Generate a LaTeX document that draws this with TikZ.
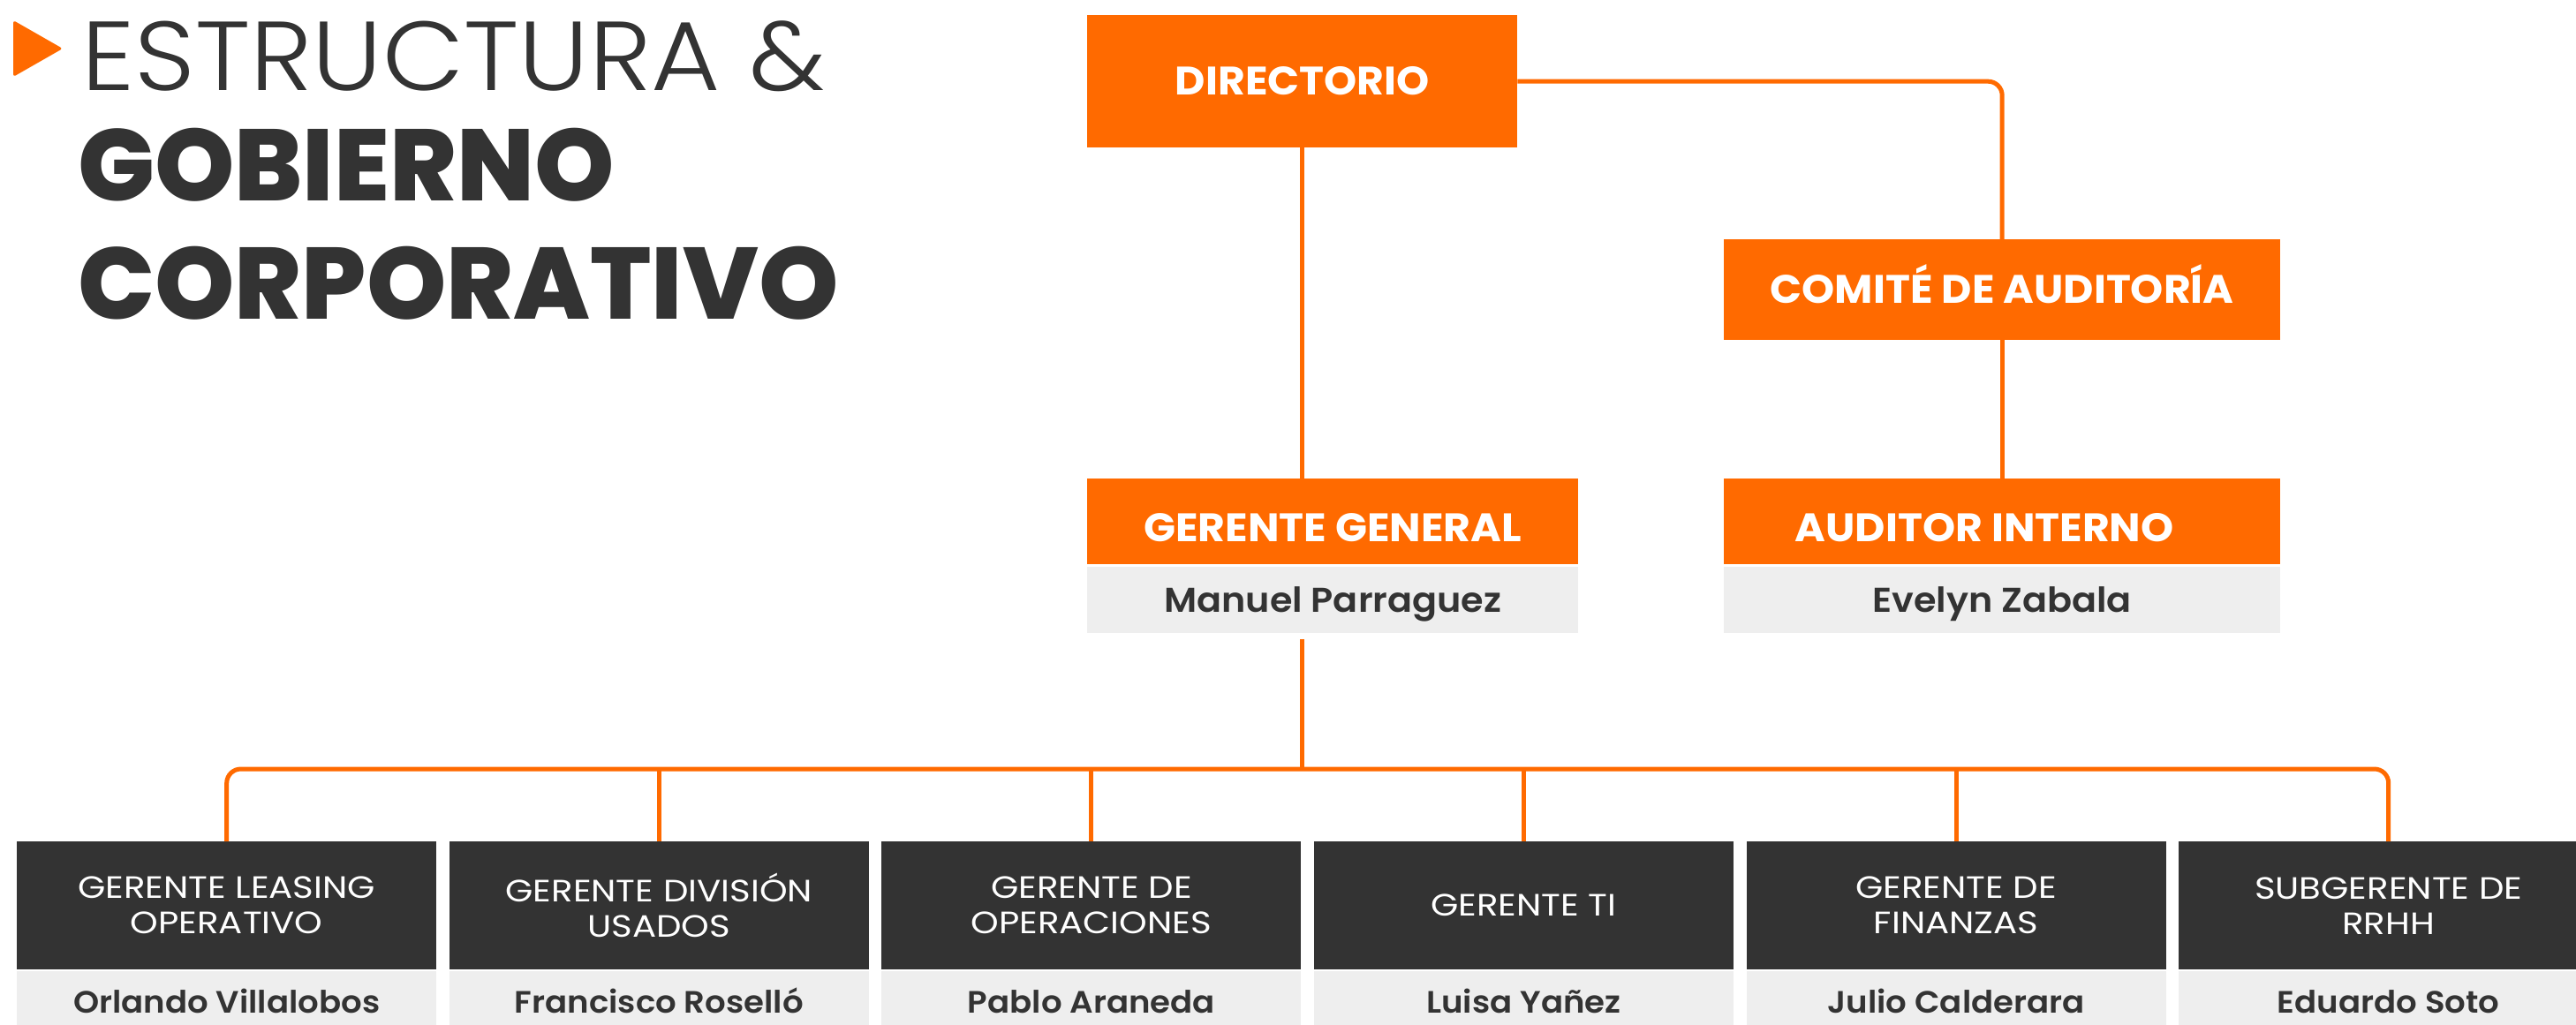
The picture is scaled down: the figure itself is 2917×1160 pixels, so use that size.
\documentclass[tikz,border=0pt]{standalone}
\usepackage{fontspec}
\setmainfont{Poppins}
\newfontfamily\lightface{Poppins Light}[FakeStretch=1.08]
\newfontfamily\blackface{Poppins ExtraBold}
\newfontfamily\headface{Poppins Bold}[FakeStretch=1.05]
\newfontfamily\semiface{Poppins SemiBold}[FakeStretch=1.06]
\newfontfamily\roleface{Poppins}[FakeStretch=1.15]
\usetikzlibrary{positioning}
\definecolor{brand}{HTML}{FF6A00}
\definecolor{ink}{HTML}{333333}
\definecolor{paper}{HTML}{EEEEEE}

\begin{document}
\begin{tikzpicture}[x=1pt, y=-1pt,
  head/.style={fill=brand, text=white, inner sep=0pt, anchor=north west, text height=31.5pt, text depth=0pt, font=\headface\fontsize{45}{50}\selectfont},
  namebox/.style={fill=paper, text=ink, inner sep=0pt},
  role/.style={fill=ink, text=white, inner sep=0pt, align=center, anchor=north west, minimum width=475pt, minimum height=145pt, font=\roleface\fontsize{35}{40}\selectfont},
  person/.style={namebox, minimum width=475pt, minimum height=80pt, text height=24.5pt, text depth=8.5pt, font=\semiface\fontsize{35}{40}\selectfont},
  title/.style={anchor=base west, inner sep=0pt, text=ink},
  link/.style={draw=brand, line width=5pt}]
\useasboundingbox (0,0) rectangle (2917,1160);

% title
\fill[brand, rounded corners=3pt] (15,23) -- (71,55) -- (15,87) -- cycle;
\node[title, font=\lightface\fontsize{111}{111}\selectfont] (title1) at (92,102) {ESTRUCTURA \&};
\node[title, font=\blackface\fontsize{115}{115}\selectfont] (title2) at (88,227) {GOBIERNO};
\node[title, font=\blackface\fontsize{115}{115}\selectfont] (title3) at (88,361) {CORPORATIVO};

% board and general management
\node[head, minimum width=487pt, minimum height=150pt] (dir) at (1231,17) {DIRECTORIO};
\node[head, minimum width=630pt, minimum height=114pt] (comite) at (1952,271) {COMITÉ DE AUDITORÍA};
\node[head, minimum width=556pt, minimum height=97pt, text height=45.5pt] (gg) at (1231,542) {GERENTE GENERAL};
\node[namebox, minimum width=556pt, minimum height=75pt, below=2pt of gg, text height=29pt, text depth=0pt, font=\semiface\fontsize{39}{44}\selectfont] (ggname) {Manuel Parraguez};
\node[head, minimum width=630pt, minimum height=97pt, text height=45.5pt] (aud) at (1952,542) {AUDITOR INTERNO\hspace*{40pt}};
\node[namebox, minimum width=630pt, minimum height=75pt, below=2pt of aud, text height=29pt, text depth=0pt, font=\semiface\fontsize{39}{44}\selectfont] (audname) {Evelyn Zabala};

% managers
\foreach \job/\who [count=\i from 0] in {{GERENTE LEASING\\OPERATIVO}/Orlando Villalobos,
    {GERENTE DIVISIÓN\\USADOS}/Francisco Roselló,
    {GERENTE DE\\OPERACIONES}/Pablo Araneda,
    {GERENTE TI}/Luisa Yañez,
    {GERENTE DE\\FINANZAS}/Julio Calderara,
    {SUBGERENTE DE\\RRHH}/Eduardo Soto} {
  \node[role] (b\i) at (19+489.6*\i,953) {\job};
  \node[person, below=1pt of b\i] (n\i) {\who};
}

% connectors
\coordinate (bus) at (1474,871);
\draw[link] (dir.south) -- (dir.south |- gg.north);
\draw[link, rounded corners=16pt] (dir.east) -| (comite.north);
\draw[link] (comite.south) -- (aud.north);
\draw[link, shorten <=7pt] (bus |- ggname.south) -- (bus);
\draw[link, rounded corners=16pt] (b0.north) |- (bus) -| (b5.north);
\foreach \i in {1,...,4}
  \draw[link] (b\i.north) -- (b\i.north |- bus);
\end{tikzpicture}
\end{document}
